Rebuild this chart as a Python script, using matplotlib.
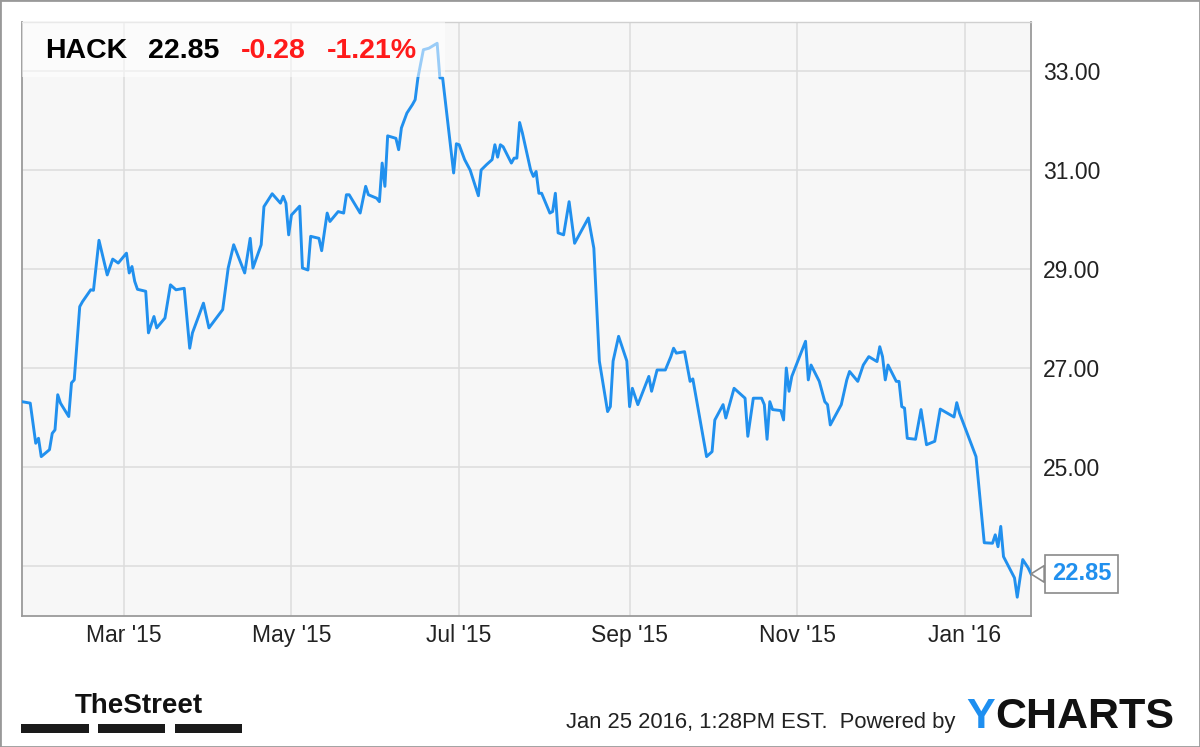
import matplotlib
matplotlib.use("Agg")
import matplotlib.pyplot as plt
import pandas as pd
from matplotlib.patches import Rectangle

# HACK daily closes
dates = [
    "2015-01-23", "2015-01-26", "2015-01-28", "2015-01-29", "2015-01-30",
    "2015-02-02", "2015-02-03", "2015-02-04", "2015-02-05", "2015-02-06",
    "2015-02-09", "2015-02-10", "2015-02-11", "2015-02-13", "2015-02-14",
    "2015-02-17", "2015-02-18", "2015-02-20", "2015-02-23", "2015-02-25",
    "2015-02-27", "2015-03-02", "2015-03-03", "2015-03-04", "2015-03-05",
    "2015-03-06", "2015-03-09", "2015-03-10", "2015-03-12", "2015-03-13",
    "2015-03-16", "2015-03-18", "2015-03-20", "2015-03-23", "2015-03-25",
    "2015-03-26", "2015-03-30", "2015-04-01", "2015-04-06", "2015-04-08",
    "2015-04-10", "2015-04-14", "2015-04-16", "2015-04-17", "2015-04-20",
    "2015-04-21", "2015-04-24", "2015-04-27", "2015-04-28", "2015-04-29",
    "2015-04-30", "2015-05-01", "2015-05-04", "2015-05-05", "2015-05-07",
    "2015-05-08", "2015-05-11", "2015-05-12", "2015-05-14", "2015-05-15",
    "2015-05-18", "2015-05-20", "2015-05-21", "2015-05-22", "2015-05-26",
    "2015-05-28", "2015-05-29", "2015-06-01", "2015-06-02", "2015-06-03",
    "2015-06-04", "2015-06-05", "2015-06-08", "2015-06-09", "2015-06-10",
    "2015-06-12", "2015-06-14", "2015-06-15", "2015-06-16", "2015-06-18",
    "2015-06-20", "2015-06-23", "2015-06-24", "2015-06-25", "2015-06-29",
    "2015-06-30", "2015-07-01", "2015-07-03", "2015-07-05", "2015-07-08",
    "2015-07-09", "2015-07-11", "2015-07-13", "2015-07-14", "2015-07-15",
    "2015-07-16", "2015-07-17", "2015-07-20", "2015-07-21", "2015-07-22",
    "2015-07-23", "2015-07-24", "2015-07-27", "2015-07-28", "2015-07-29",
    "2015-07-30", "2015-07-31", "2015-08-03", "2015-08-04", "2015-08-05",
    "2015-08-06", "2015-08-08", "2015-08-10", "2015-08-12", "2015-08-17",
    "2015-08-19", "2015-08-21", "2015-08-24", "2015-08-25", "2015-08-26",
    "2015-08-28", "2015-08-31", "2015-09-01", "2015-09-02", "2015-09-04",
    "2015-09-08", "2015-09-09", "2015-09-11", "2015-09-14", "2015-09-16",
    "2015-09-17", "2015-09-18", "2015-09-21", "2015-09-23", "2015-09-24",
    "2015-09-29", "2015-10-01", "2015-10-02", "2015-10-05", "2015-10-06",
    "2015-10-08", "2015-10-09", "2015-10-13", "2015-10-14", "2015-10-16",
    "2015-10-19", "2015-10-20", "2015-10-21", "2015-10-22", "2015-10-23",
    "2015-10-26", "2015-10-27", "2015-10-28", "2015-10-29", "2015-10-30",
    "2015-11-04", "2015-11-05", "2015-11-06", "2015-11-09", "2015-11-11",
    "2015-11-12", "2015-11-13", "2015-11-17", "2015-11-19", "2015-11-20",
    "2015-11-23", "2015-11-25", "2015-11-27", "2015-11-30", "2015-12-01",
    "2015-12-02", "2015-12-03", "2015-12-04", "2015-12-07", "2015-12-08",
    "2015-12-09", "2015-12-10", "2015-12-11", "2015-12-14", "2015-12-16",
    "2015-12-18", "2015-12-21", "2015-12-23", "2015-12-28", "2015-12-29",
    "2015-12-30", "2016-01-05", "2016-01-08", "2016-01-11", "2016-01-12",
    "2016-01-13", "2016-01-14", "2016-01-15", "2016-01-19", "2016-01-20",
    "2016-01-22", "2016-01-24", "2016-01-25",
]
prices = [
    26.33, 26.30, 25.49, 25.59, 25.22,
    25.36, 25.69, 25.76, 26.47, 26.30,
    26.03, 26.71, 26.77, 28.25, 28.35,
    28.59, 28.58, 29.59, 28.89, 29.21,
    29.13, 29.33, 28.93, 29.06, 28.76,
    28.60, 28.56, 27.72, 28.05, 27.82,
    28.02, 28.69, 28.59, 28.62, 27.41,
    27.72, 28.32, 27.82, 28.19, 29.03,
    29.50, 28.93, 29.63, 29.03, 29.50,
    30.27, 30.53, 30.34, 30.48, 30.34,
    29.70, 30.10, 30.28, 29.03, 28.99,
    29.67, 29.63, 29.38, 30.14, 29.97,
    30.17, 30.14, 30.51, 30.51, 30.14,
    30.68, 30.51, 30.44, 30.37, 31.15,
    30.68, 31.70, 31.65, 31.42, 31.86,
    32.16, 32.33, 32.43, 32.87, 33.44,
    33.47, 33.57, 32.87, 32.87, 30.95,
    31.54, 31.52, 31.22, 31.01, 30.49,
    31.01, 31.12, 31.22, 31.52, 31.27,
    31.52, 31.48, 31.15, 31.25, 31.25,
    31.97, 31.76, 31.01, 30.88, 30.98,
    30.54, 30.54, 30.14, 30.17, 30.54,
    29.74, 29.70, 30.37, 29.53, 30.04,
    29.43, 27.15, 26.13, 26.23, 27.15,
    27.65, 27.15, 26.23, 26.60, 26.27,
    26.84, 26.54, 26.97, 26.97, 27.24,
    27.41, 27.31, 27.34, 26.74, 26.79,
    25.22, 25.32, 25.96, 26.27, 26.00,
    26.40, 26.60, 26.40, 25.63, 26.40,
    26.40, 26.27, 25.57, 26.33, 26.17,
    26.15, 25.96, 27.01, 26.54, 26.84,
    27.55, 26.77, 27.07, 26.74, 26.33,
    26.27, 25.86, 26.27, 26.77, 26.94,
    26.74, 27.07, 27.24, 27.14, 27.44,
    27.24, 26.77, 27.07, 26.74, 26.74,
    26.23, 26.20, 25.59, 25.57, 26.17,
    25.46, 25.53, 26.18, 26.02, 26.31,
    26.10, 25.22, 23.48, 23.47, 23.64,
    23.40, 23.81, 23.20, 22.77, 22.38,
    23.14, 22.97, 22.85,
]

xtick_dates = ["2015-03-01", "2015-05-01", "2015-07-01", "2015-09-01", "2015-11-01", "2016-01-01"]
xtick_labels = ["Mar '15", "May '15", "Jul '15", "Sep '15", "Nov '15", "Jan '16"]
ytick_values = [23, 25, 27, 29, 31, 33]
# the 23.00 label sits behind the last-price box in the original
ytick_labels = ["", "25.00", "27.00", "29.00", "31.00", "33.00"]

ticker = "HACK"
change = -0.28
change_pct = -1.21

df = pd.DataFrame({"date": pd.to_datetime(dates), "price": prices})
last_price = df["price"].iloc[-1]

plt.rcParams["font.family"] = ["Liberation Sans", "DejaVu Sans"]

LINE_BLUE = "#2190ee"

fig = plt.figure(figsize=(12, 7.47), dpi=100)
ax = fig.add_axes([0.01833, 0.17537, 0.84083, 0.79518])
ax.set_facecolor("#f7f7f7")

ax.plot(df["date"], df["price"], color=LINE_BLUE, lw=2.1, zorder=3)

ax.set_xlim(pd.Timestamp("2015-01-23"), pd.Timestamp("2016-01-25"))
ax.set_ylim(22.0, 34.0)

ax.set_xticks(pd.to_datetime(xtick_dates))
ax.set_xticklabels(xtick_labels)
ax.yaxis.tick_right()
ax.set_yticks(ytick_values)
ax.set_yticklabels(ytick_labels)
ax.tick_params(axis="both", length=0, labelsize=16.5, colors="#222222")
ax.tick_params(axis="x", pad=6)
ax.tick_params(axis="y", pad=8.5)

ax.grid(True, color="#dcdcdc", lw=1.1)
ax.set_axisbelow(True)
for side in ["left", "right", "bottom"]:
    ax.spines[side].set_color("#9a9a9a")
    ax.spines[side].set_linewidth(1.3)
ax.spines["top"].set_color("#d0d0d0")
ax.spines["top"].set_linewidth(1.0)

# translucent header panel
ax.add_patch(Rectangle((0, 0.907), 0.419, 0.093, transform=ax.transAxes,
                       facecolor="white", alpha=0.55, edgecolor="none", zorder=4))

head_y = 1 - 58.3 / 747
fig.text(45 / 1200, head_y, ticker, fontsize=20.5, fontweight="bold", color="black", va="baseline")
fig.text(148 / 1200, head_y, f"{last_price:.2f}", fontsize=20.5, fontweight="bold", color="black", va="baseline")
fig.text(241 / 1200, head_y, f"{change:.2f}", fontsize=20.5, fontweight="bold", color="#ff1a1a", va="baseline")
fig.text(327 / 1200, head_y, f"{change_pct:.2f}%", fontsize=20.5, fontweight="bold", color="#ff1a1a", va="baseline")

# last value callout
ax.annotate(f"{last_price:.2f}", xy=(1.0, last_price), xycoords=("axes fraction", "data"),
            xytext=(15, 0), textcoords="offset points", ha="left", va="center",
            fontsize=17, fontweight="bold", color=LINE_BLUE, zorder=10, annotation_clip=False,
            bbox=dict(boxstyle="square,pad=0.3", fc="white", ec="#8a8a8a", lw=1.2),
            arrowprops=dict(arrowstyle="wedge,tail_width=0.7,shrink_factor=0.5", fc="white",
                            ec="#8a8a8a", lw=1.2, shrinkA=0, shrinkB=0))

# footer
fig.text(75 / 1200, 1 - 713 / 747, "TheStreet", fontsize=20, fontweight="bold",
         color="#111111", va="baseline")
for x0, x1 in [(21, 89), (98, 165), (175, 242)]:
    fig.add_artist(Rectangle((x0 / 1200, 1 - 733 / 747), (x1 - x0) / 1200, 9 / 747,
                             transform=fig.transFigure, facecolor="#1a1a1a", edgecolor="none"))
fig.text(566 / 1200, 1 - 728.3 / 747, "Jan 25 2016, 1:28PM EST.  Powered by", fontsize=15.8,
         color="#222222", va="baseline")
fig.text(966 / 1200, 1 - 728 / 747, "Y", fontsize=31, fontweight="bold", color="#1e8ff0", va="baseline")
fig.text(995 / 1200, 1 - 728 / 747, "CHARTS", fontsize=31, fontweight="bold", color="#111111", va="baseline")

fig.add_artist(Rectangle((0, 0), 1, 1, transform=fig.transFigure, fill=False,
                         edgecolor="#999999", lw=2))

fig.savefig("out.png", dpi=100)
plt.close(fig)
